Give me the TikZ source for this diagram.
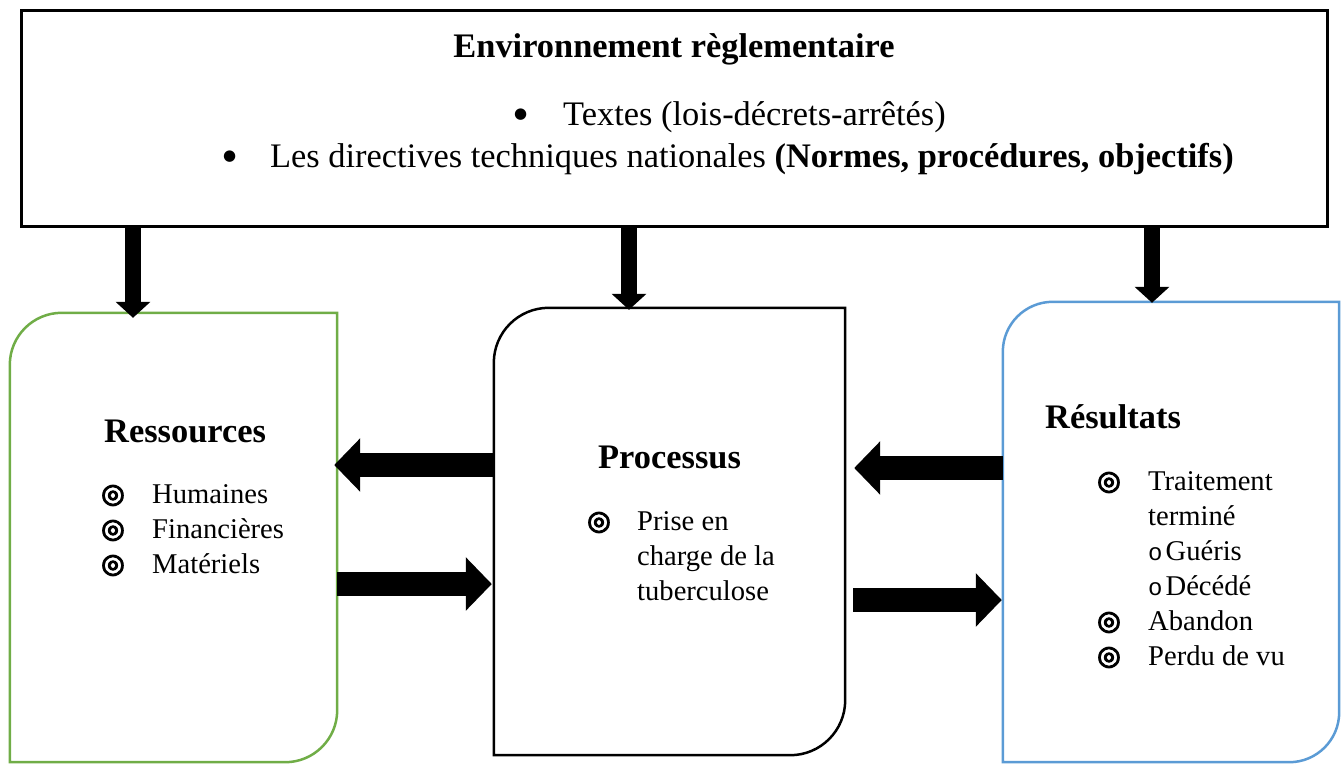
\documentclass[tikz,border=0pt]{standalone}
\usepackage{fontspec}
\setmainfont{Liberation Serif}
\newfontfamily\symfam{DejaVu Sans}
\newfontfamily\symbold[FakeBold=4]{DejaVu Sans}
\newfontfamily\monofam{Liberation Mono}
\usetikzlibrary{arrows.meta, positioning}

\definecolor{resgreen}{HTML}{70AD47}
\definecolor{resblue}{HTML}{5B9BD5}

\newcommand{\ringbul}{{\symbold\fontsize{27}{27}\selectfont\raisebox{0.5pt}{◎}}}
\newcommand{\dotbul}{{\symfam\fontsize{15}{15}\selectfont\raisebox{7pt}{●}}}
\newcommand{\hollow}{{\monofam\fontsize{24}{24}\selectfont o}}

\begin{document}
\begin{tikzpicture}[
        x=1pt, y=-1pt,
        envbox/.style={draw, line width=3pt, inner sep=0pt},
        zone/.style={inner sep=0pt},
        headtxt/.style={inner sep=0pt, anchor=base west, font=\fontsize{34.4}{40}\selectfont\bfseries},
        toptxt/.style={inner sep=0pt, anchor=base west, font=\fontsize{34.4}{40}\selectfont},
        itemtxt/.style={inner sep=0pt, anchor=base west, font=\fontsize{28.6}{35}\selectfont},
        downarrow/.style={line width=16pt, -{Triangle[length=16pt, width=34pt]}},
        sidearrow/.style={line width=24pt, -{Triangle[length=26pt, width=52pt]}}
    ]
    \useasboundingbox (0,0) rectangle (1341,763);

    % regulatory frame
    \node[envbox, minimum width=1306pt, minimum height=216pt] (env) at (674,118) {};
    \node[headtxt, anchor=base] (envT) at (674,57) {Environnement règlementaire};
    \node[toptxt] (envL1) at (514,125) {\makebox[49pt][l]{\dotbul}Textes (lois-décrets-arrêtés)};
    \node[toptxt] (envL2) at (223,167) {\makebox[47pt][l]{\dotbul}Les directives techniques nationales \textbf{(Normes, procédures, objectifs)}};

    % the three boxes
    \node[zone, minimum width=327pt, minimum height=449pt] (res) at (173.5,537.5) {};
    \node[zone, minimum width=351pt, minimum height=447pt] (proc) at (669.5,531.5) {};
    \node[zone, minimum width=336pt, minimum height=460pt] (resu) at (1171,532) {};

    \foreach \n/\c/\r in {res/resgreen/52pt, proc/black/55pt, resu/resblue/50pt}
        \draw[\c, line width=2.5pt] ([yshift=-\r]\n.north west) arc[start angle=180, end angle=90, radius=\r]
            -- (\n.north east) -- ([yshift=\r]\n.south east) arc[start angle=0, end angle=-90, radius=\r]
            -- (\n.south west) -- cycle;

    \node[headtxt] (resT) at (104,442) {Ressources};
    \node[headtxt] (procT) at (598,468) {Processus};
    \node[headtxt] (resuT) at (1045,428) {Résultats};

    \foreach \t/\y [count=\i] in {Humaines/503, Financières/538, Matériels/573}
        \node[itemtxt] (res\i) at (152,\y) {\llap{\makebox[51pt][l]{\ringbul}}\t};

    \node[itemtxt] (proc1) at (637,530) {\llap{\makebox[50pt][l]{\ringbul}}Prise en};
    \node[itemtxt] (proc2) at (637,565) {charge de la};
    \node[itemtxt] (proc3) at (637,600) {tuberculose};

    \node[itemtxt] (resu1) at (1148,490) {\llap{\makebox[51pt][l]{\ringbul}}Traitement};
    \node[itemtxt] (resu2) at (1148,525) {terminé};
    \node[itemtxt] (resu3) at (1148,560) {\hollow\hspace{3pt}Guéris};
    \node[itemtxt] (resu4) at (1148,595) {\hollow\hspace{3pt}Décédé};
    \node[itemtxt] (resu5) at (1148,630) {\llap{\makebox[51pt][l]{\ringbul}}Abandon};
    \node[itemtxt] (resu6) at (1148,665) {\llap{\makebox[51pt][l]{\ringbul}}Perdu de vu};

    % arrows
    \coordinate (resin) at ([xshift=-40.5pt, yshift=-5pt]res.north);
    \coordinate (procin) at ([xshift=-40.5pt, yshift=-2pt]proc.north);
    \coordinate (resuin) at ([xshift=-19pt, yshift=-1pt]resu.north);
    \draw[downarrow] (resin |- env.south) -- (resin);
    \draw[downarrow] (procin |- env.south) -- (procin);
    \draw[downarrow] (resuin |- env.south) -- (resuin);

    \draw[sidearrow] ([yshift=66.5pt]proc.west) -- ([yshift=72.5pt, xshift=-3pt]res.east);
    \draw[sidearrow] ([yshift=-46.5pt]res.east) -- ([yshift=-52.5pt, xshift=-2pt]proc.west);
    \draw[sidearrow] ([yshift=64pt]resu.west) -- ([yshift=63.5pt, xshift=9pt]proc.east);
    \draw[sidearrow] ([yshift=-68.5pt, xshift=8pt]proc.east) -- ([yshift=-68pt, xshift=-1pt]resu.west);

\end{tikzpicture}
\end{document}
